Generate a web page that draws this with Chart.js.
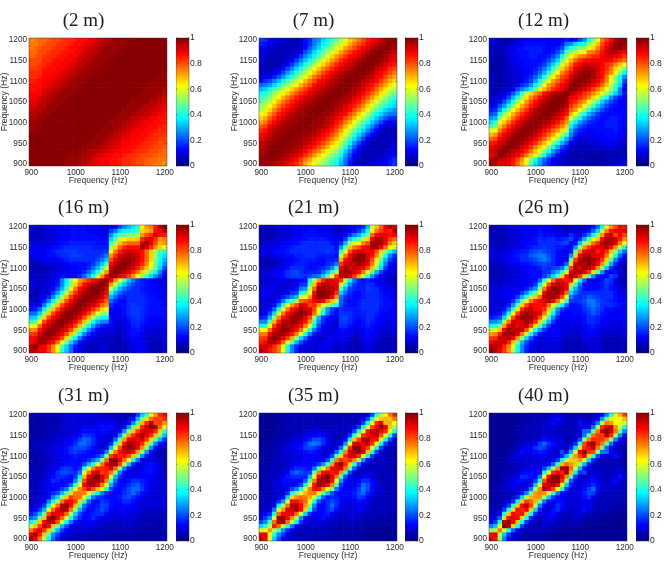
<!DOCTYPE html>
<html>
<head>
<meta charset="utf-8">
<title>Frequency correlation by range</title>
<script src="https://cdn.jsdelivr.net/npm/chart.js@4"></script>
<style>
  html, body { margin: 0; padding: 0; background: #fff; }
  body { position: relative; width: 667px; height: 563px; overflow: hidden; }
  canvas { position: absolute; }
</style>
</head>
<body>
<script>
// Frequency axis shared by every panel (Hz).
const freqs = [900,910,920,930,940,950,960,970,980,990,1000,1010,1020,1030,1040,1050,1060,1070,1080,1090,1100,1110,1120,1130,1140,1150,1160,1170,1180,1190,1200];
const xTickValues = [900,1000,1100,1200];
const yTickValues = [900,950,1000,1050,1100,1150,1200];
const barTickValues = [0,0.2,0.4,0.6,0.8,1];
const rangeLabels = ['(2 m)','(7 m)','(12 m)','(16 m)','(21 m)','(26 m)','(31 m)','(35 m)','(40 m)'];
const axisLabel = 'Frequency (Hz)';

// Correlation in hundredths. Each matrix is symmetric, so row i lists columns i..30 only.
const corr2m = [
[100,100,100,100,99,99,99,99,98,98,97,96,95,93,92,90,89,88,87,86,85,84,83,82,81,80,78,77,76,75,73],
[100,100,100,100,99,99,99,98,98,97,96,95,94,92,90,89,88,87,86,85,84,83,82,81,80,79,78,77,76,75],
[100,100,100,100,99,99,99,98,98,97,96,95,94,92,91,89,88,87,86,85,84,83,82,81,80,80,79,78,77],
[100,100,100,100,99,99,99,99,98,97,96,95,94,93,91,90,89,88,87,86,85,84,83,82,81,80,79,78],
[100,100,100,100,99,99,99,99,98,98,97,96,95,93,92,90,89,88,87,86,85,84,83,82,81,80,79],
[100,100,100,100,99,99,99,99,98,98,97,96,95,93,92,90,89,88,87,86,85,84,83,82,81,80],
[100,100,100,100,99,99,99,99,98,98,97,96,95,93,92,90,89,88,87,86,85,84,83,82,81],
[100,100,100,100,99,99,99,99,98,98,97,96,95,93,92,90,89,88,87,86,85,84,83,82],
[100,100,100,100,99,99,99,99,98,98,97,96,95,93,92,90,89,88,87,86,85,84,83],
[100,100,100,100,99,99,99,99,98,98,97,96,95,93,92,90,89,88,87,86,85,84],
[100,100,100,100,99,99,99,99,98,98,97,96,95,93,92,90,89,88,87,86,85],
[100,100,100,100,99,99,99,99,98,98,97,96,95,94,92,91,89,88,87,86],
[100,100,100,100,99,99,99,99,98,98,97,96,95,94,93,91,90,88,87],
[100,100,100,100,99,99,99,99,98,98,97,96,95,94,93,91,90,88],
[100,100,100,100,99,99,99,99,98,98,97,96,95,94,93,92,90],
[100,100,100,100,99,99,99,99,98,98,97,97,95,94,93,92],
[100,100,100,100,99,99,99,99,98,98,97,97,96,95,93],
[100,100,100,100,99,99,99,99,98,98,97,97,96,95],
[100,100,100,100,99,99,99,99,98,98,98,97,96],
[100,100,100,100,99,99,99,99,98,98,98,97],
[100,100,100,100,99,99,99,99,98,98,98],
[100,100,100,100,99,99,99,99,98,98],
[100,100,100,100,99,99,99,99,98],
[100,100,100,100,99,99,99,99],
[100,100,100,100,99,99,99],
[100,100,100,100,99,99],
[100,100,100,100,99],
[100,100,100,100],
[100,100,100],
[100,100],
[100]
];
const corr7m = [
[97,97,96,96,95,93,90,87,83,79,71,66,62,56,52,47,43,38,30,22,14,9,7,6,7,8,9,10,12,15,18],
[100,98,97,96,95,93,90,86,82,76,71,65,60,55,50,45,41,33,24,16,10,7,5,5,6,7,8,10,13,17],
[100,99,98,97,95,93,91,88,84,79,73,67,62,56,51,46,38,28,19,12,8,6,5,5,6,6,8,10,12],
[100,99,98,97,96,94,91,88,84,79,74,68,63,57,52,44,34,24,15,10,7,5,5,5,6,7,8,10],
[100,99,98,97,96,94,92,89,85,80,75,69,63,58,50,40,30,21,14,9,6,5,5,5,6,7,9],
[100,99,98,97,96,94,92,89,85,80,75,69,63,55,47,37,28,20,13,8,6,5,5,6,7,8],
[100,99,98,97,96,95,92,89,85,80,75,68,60,52,44,35,27,19,12,8,6,5,5,6,7],
[100,99,98,97,96,95,92,89,85,80,74,66,58,50,42,34,26,18,12,8,6,5,5,6],
[100,99,98,97,96,94,92,89,85,79,72,64,56,48,41,33,25,18,12,8,6,5,6],
[100,99,98,97,96,94,92,88,83,77,70,62,55,47,40,32,25,18,12,9,7,7],
[100,99,98,97,96,94,91,87,82,76,69,61,54,47,40,32,25,19,14,11,13],
[100,99,98,97,95,93,90,86,81,75,68,61,54,47,39,32,26,21,17,17],
[100,99,98,97,95,93,90,86,81,75,68,61,54,46,39,33,28,24,24],
[100,99,98,97,95,93,90,86,80,74,68,60,53,46,40,34,30,28],
[100,99,98,96,95,92,89,85,80,74,67,60,53,46,41,36,33],
[100,99,98,96,94,92,89,85,79,73,67,60,53,47,41,36],
[100,99,98,96,94,92,88,84,79,73,66,59,53,47,42],
[100,99,97,96,94,91,88,84,78,72,65,59,53,47],
[100,99,97,96,94,91,87,83,77,71,65,59,54],
[100,99,97,96,93,90,87,82,77,71,65,60],
[100,99,97,95,93,90,86,82,76,71,66],
[100,99,97,95,93,89,86,81,76,71],
[100,99,97,95,92,89,85,81,76],
[100,99,97,95,92,88,84,80],
[100,99,97,94,91,88,85],
[100,99,97,94,91,88],
[100,99,96,93,90],
[100,98,96,93],
[100,98,96],
[100,98],
[100]
];
const corr12m = [
[97,95,90,92,90,85,78,70,58,45,35,27,20,15,10,8,7,6,5,5,5,5,4,4,4,5,5,6,7,8,10],
[100,93,93,91,87,81,73,62,50,40,31,23,17,12,9,8,6,5,5,5,5,4,4,4,4,5,5,6,7,8],
[100,98,95,92,88,83,76,68,60,50,38,28,19,13,9,7,5,4,4,4,4,4,4,4,5,6,6,6,6],
[100,98,95,92,88,83,76,68,60,50,38,28,19,13,9,6,5,5,5,5,5,5,6,6,7,6,6,5],
[100,98,96,92,88,83,76,68,60,50,39,29,20,13,7,6,6,6,6,7,7,8,9,9,8,7,6],
[100,98,96,93,88,83,76,69,61,51,40,30,21,12,8,7,7,8,9,9,10,11,11,10,8,6],
[100,98,96,93,88,83,77,70,62,52,41,31,20,12,8,8,9,10,11,12,12,13,13,12,8],
[100,98,96,93,89,84,78,71,63,53,43,25,16,12,11,10,10,11,12,13,13,14,12,10],
[100,98,96,93,89,84,78,72,65,56,30,20,15,13,12,12,13,13,14,14,15,13,10],
[100,98,96,93,90,85,80,74,66,36,27,20,16,14,13,13,14,15,15,15,14,11],
[100,98,96,94,90,86,81,72,46,36,27,21,17,15,14,14,15,15,15,14,11],
[100,98,97,94,91,87,78,60,48,38,29,23,18,15,14,14,15,15,14,12],
[100,99,97,95,92,86,70,62,50,40,31,24,18,15,13,13,13,13,11],
[100,99,97,95,90,78,72,62,52,42,32,25,19,15,13,12,12,11],
[100,99,98,94,83,78,72,64,54,44,34,26,19,15,13,12,11],
[100,99,96,87,84,78,72,64,54,44,34,26,19,15,12,11],
[100,98,90,88,84,80,74,66,58,48,38,28,20,15,12],
[100,95,92,88,84,80,74,68,60,52,44,34,24,15],
[100,98,95,91,87,82,76,70,62,52,40,26,10],
[100,98,96,93,90,85,78,68,56,45,33,14],
[100,98,96,93,89,83,74,62,50,36,20],
[100,98,96,92,86,76,64,50,38,26],
[98,96,92,87,81,74,62,50,38],
[95,92,88,83,76,66,58,48],
[90,88,84,80,74,68,62],
[88,88,86,84,80,75],
[92,92,90,86,82],
[95,95,92,88],
[98,97,95],
[100,98],
[100]
];
const corr16m = [
[95,95,88,88,82,72,62,42,32,22,14,10,7,6,6,7,8,8,6,5,5,6,8,10,11,10,8,6,5,6,8],
[100,90,88,83,74,62,44,33,23,15,10,7,6,6,7,8,8,6,5,5,6,8,10,11,11,9,7,5,5,7],
[97,96,92,87,78,64,47,33,22,14,10,8,7,7,7,7,7,6,5,7,9,11,12,11,9,7,6,6,7],
[98,97,93,88,80,67,50,36,24,15,11,9,8,7,7,7,6,6,8,10,12,12,10,8,7,7,7,8],
[99,97,93,88,80,68,52,38,25,16,11,9,8,8,8,7,6,8,11,13,13,11,9,8,8,8,9],
[98,97,93,88,80,68,52,38,26,18,13,10,9,9,8,7,8,11,14,15,13,10,9,9,9,10],
[98,97,93,88,80,68,52,39,27,20,15,14,11,9,8,9,12,15,16,14,11,10,10,10,11],
[99,97,94,88,80,68,54,40,30,26,26,13,10,9,10,13,16,17,15,13,11,11,11,12],
[100,98,94,89,81,70,56,44,38,36,12,10,10,12,15,17,18,16,14,12,12,12,13],
[100,98,94,89,82,72,60,52,52,12,11,11,13,16,18,18,17,15,13,13,13,13],
[100,98,95,90,84,75,66,62,14,12,12,14,16,18,18,17,15,14,13,13,13],
[100,98,95,91,86,78,72,17,14,13,14,16,18,17,16,15,14,13,13,12],
[100,98,96,92,87,78,22,17,14,14,16,17,17,16,15,14,13,13,12],
[100,98,96,92,84,30,22,17,15,16,17,16,16,15,14,13,12,12],
[100,99,96,88,42,30,22,18,17,16,16,15,15,14,13,12,11],
[100,98,92,58,42,30,24,20,17,16,15,14,13,12,11,10],
[100,96,72,56,42,32,24,19,17,15,14,12,11,10,9],
[100,88,72,58,44,32,24,18,15,13,11,10,9,8],
[97,96,92,87,80,72,62,52,43,34,26,18,10],
[100,98,95,90,84,76,66,56,46,36,24,14],
[100,98,95,91,85,78,68,58,46,34,20],
[100,98,95,90,84,74,62,48,36,25],
[98,96,92,86,78,66,50,38,30],
[95,92,86,78,66,52,40,35],
[90,86,78,68,54,44,42],
[98,92,84,72,66,62],
[96,90,80,70,72],
[92,84,72,75],
[92,86,85],
[90,95],
[100]
];
const corr21m = [
[95,92,85,82,75,62,38,25,15,10,8,8,9,10,10,9,8,6,8,7,5,5,6,8,9,8,6,5,5,5,6],
[95,88,84,76,63,40,26,16,11,9,8,9,10,11,10,8,7,9,8,6,5,6,8,10,9,7,5,5,5,6],
[96,95,88,78,64,46,30,20,13,10,9,9,10,11,10,8,10,9,7,5,6,9,11,10,8,6,5,5,6],
[100,96,90,82,70,52,34,22,14,10,9,9,10,11,9,11,10,8,6,7,10,12,11,9,7,6,6,7],
[96,96,92,85,74,58,40,24,15,11,9,9,10,10,12,12,10,8,8,11,13,12,10,8,7,7,8],
[97,97,93,86,75,60,42,24,15,11,9,9,10,14,14,12,10,9,12,14,13,11,9,8,8,9],
[95,95,92,86,76,60,36,20,12,10,9,9,17,16,14,12,11,13,15,14,12,10,9,9,10],
[97,97,92,86,72,44,26,16,11,9,9,18,18,16,14,12,14,16,15,13,11,10,10,11],
[98,96,90,80,52,30,18,13,11,10,18,19,17,15,14,15,16,16,14,12,11,11,12],
[100,97,92,78,58,38,24,16,13,18,17,16,15,15,15,17,17,15,13,12,11,12],
[92,90,80,62,44,28,18,14,16,15,15,15,15,16,17,17,16,14,13,12,12],
[82,84,72,62,55,46,38,20,15,14,14,15,16,16,17,17,15,14,13,11],
[88,92,88,78,68,56,22,15,14,14,15,16,17,17,16,15,14,13,11],
[98,100,96,88,72,24,17,15,14,14,15,17,17,17,15,13,12,10],
[100,98,94,84,34,22,17,14,14,15,17,17,17,15,12,11,9],
[94,94,90,46,30,20,16,15,15,18,17,16,14,11,10,8],
[92,90,62,42,26,18,15,15,17,16,14,12,10,9,7],
[88,82,56,38,24,16,13,15,14,12,10,8,7,6],
[95,95,90,82,70,56,42,28,16,10,8,6,6],
[96,96,92,86,76,62,46,30,18,12,9,8],
[92,94,92,88,80,68,52,34,18,12,10],
[93,98,94,88,76,58,40,24,14,10],
[98,98,92,80,64,46,30,18,13],
[100,92,86,74,56,40,26,16],
[88,88,80,66,50,38,30],
[98,96,88,78,64,58],
[96,96,88,76,68],
[96,90,82,78],
[88,86,88],
[85,96],
[92]
];
const corr26m = [
[97,95,88,82,72,55,38,25,15,10,8,7,8,9,9,8,7,6,6,5,5,6,7,8,8,7,6,5,5,5,6],
[95,92,84,74,58,40,26,16,11,9,8,8,9,10,9,8,6,6,5,5,6,8,9,8,7,6,5,5,5,6],
[92,93,85,68,48,30,19,13,10,8,9,10,10,9,7,6,6,5,6,8,9,9,8,6,6,5,5,5,6],
[92,96,88,73,52,34,21,14,10,9,10,11,10,8,7,7,6,7,9,10,10,8,7,6,6,6,6,7],
[96,98,90,76,57,38,24,15,11,10,11,11,9,8,8,7,8,10,12,11,9,8,7,7,7,7,8],
[93,94,92,80,62,42,27,17,12,11,11,10,9,9,8,9,11,13,13,11,9,8,8,8,8,9],
[88,92,93,82,65,46,30,18,12,10,10,10,10,9,10,12,14,15,13,11,9,9,9,9,10],
[92,98,93,83,66,47,30,18,11,10,10,11,10,11,13,16,17,15,12,11,10,10,10,11],
[98,97,92,81,63,42,26,15,11,11,12,12,12,14,16,17,15,13,12,11,11,11,12],
[94,93,90,76,56,36,21,13,12,12,13,13,15,18,21,18,15,13,12,12,12,12],
[88,86,84,68,46,28,18,14,13,14,14,16,20,23,20,16,14,13,12,12,12],
[86,88,78,62,50,36,22,14,14,15,18,22,24,21,17,16,16,15,13,12],
[90,96,88,76,60,42,18,16,18,20,24,24,20,18,16,15,14,12,11],
[96,98,92,80,60,24,18,17,18,21,20,18,17,17,16,13,11,10],
[94,100,92,78,34,24,18,16,17,17,16,16,17,16,13,10,8],
[97,94,88,46,30,19,14,13,13,14,15,16,14,11,9,7],
[92,88,66,42,24,14,11,11,12,15,18,15,10,8,6],
[85,86,62,38,22,12,10,10,14,20,16,10,6,5],
[96,92,82,66,46,28,15,11,14,20,16,9,5],
[94,96,92,82,66,46,28,14,12,13,8,5],
[90,96,95,88,74,52,32,16,10,7,5],
[95,99,95,88,72,50,30,16,9,6],
[100,96,92,82,66,44,26,14,8],
[92,92,88,76,58,38,22,14],
[85,90,83,68,50,34,22],
[92,95,87,72,55,38],
[96,96,90,75,62],
[94,93,85,72],
[80,88,80],
[88,90],
[85]
];
const corr31m = [
[97,90,76,56,36,22,15,10,7,6,6,5,5,5,6,6,5,4,4,4,4,4,4,4,4,4,4,4,4,4,5],
[97,85,68,46,28,20,12,8,7,7,6,6,6,6,6,5,5,4,4,4,4,5,5,4,4,4,4,4,4,4],
[92,82,68,48,30,18,11,8,8,8,8,8,7,6,6,5,5,5,5,6,6,5,5,4,4,4,4,4,5],
[94,88,68,48,30,20,12,9,9,10,10,9,8,7,6,6,6,6,7,7,6,5,5,4,4,4,4,5],
[97,94,80,58,36,24,14,11,11,12,12,10,9,8,7,7,7,8,8,7,6,5,5,5,5,4,5],
[100,90,78,60,38,24,16,12,14,16,14,12,10,8,8,9,9,9,8,7,6,6,5,5,5,5],
[90,88,78,54,34,20,14,13,15,17,16,12,10,9,10,11,10,9,8,7,6,6,6,6,6],
[96,94,76,50,30,18,13,14,17,20,16,12,10,11,12,12,10,9,8,7,7,7,7,7],
[100,86,68,44,24,15,13,15,20,18,14,12,12,14,14,12,10,8,8,8,8,8,8],
[86,82,66,42,22,14,14,18,16,14,13,14,17,17,14,11,9,8,8,8,8,8],
[78,76,62,42,26,18,16,14,14,13,15,18,20,17,14,11,9,8,8,8,8],
[76,74,62,48,36,24,16,14,13,14,17,20,22,18,14,11,9,8,8,8],
[80,88,80,70,60,40,20,14,13,15,19,22,22,18,14,11,9,8,8],
[97,96,88,76,58,30,16,13,14,17,20,21,17,14,11,9,8,8],
[96,98,90,74,42,22,13,12,13,16,17,15,13,11,9,8,7],
[100,92,84,58,30,16,11,10,11,12,12,12,12,10,8,7],
[82,84,76,50,26,14,9,9,10,11,13,13,11,8,7],
[85,90,78,50,26,14,9,8,10,13,13,11,8,6],
[96,98,82,56,32,16,10,9,11,13,11,8,6],
[100,88,76,62,40,22,12,9,10,9,7,6],
[84,86,80,68,46,26,14,9,7,6,5],
[92,94,86,72,50,28,14,8,6,5],
[100,96,88,72,50,28,14,8,6],
[94,92,84,68,46,26,14,9],
[88,92,82,66,46,30,18],
[96,90,84,70,48,32],
[92,92,84,66,42],
[100,94,78,64],
[80,82,72],
[80,84],
[86]
];
const corr35m = [
[93,88,58,34,20,12,8,6,5,5,5,5,4,4,4,4,4,4,4,4,4,4,4,3,3,3,3,3,3,3,4],
[92,62,40,26,18,10,7,6,6,6,5,5,5,5,5,4,4,4,4,4,4,4,3,3,3,3,3,3,3,3],
[72,56,44,28,17,10,7,6,6,6,6,6,5,5,5,4,4,4,4,4,4,4,3,3,3,3,3,3,4],
[85,78,58,40,24,12,8,7,7,8,8,7,6,5,5,5,5,5,5,5,4,4,4,3,3,3,3,4],
[95,96,78,58,36,17,10,8,8,9,10,9,7,6,6,6,6,6,5,5,4,4,4,4,4,4,4],
[100,88,72,52,28,14,9,9,11,13,12,9,7,6,7,8,8,7,6,5,5,4,4,4,4,4],
[88,90,78,58,34,17,11,11,14,15,12,9,7,7,8,9,9,7,6,5,5,5,5,4,4],
[92,96,86,66,40,20,12,13,17,19,14,10,8,8,9,11,10,8,6,6,5,5,5,5],
[96,86,72,50,26,14,13,17,22,16,11,9,9,10,11,10,8,7,6,6,6,6,5],
[82,78,62,38,20,14,16,20,16,12,10,10,11,14,12,9,7,6,6,6,6,6],
[76,70,58,36,22,15,16,15,12,11,11,13,18,16,11,8,7,6,6,6,6],
[76,76,64,46,32,20,14,12,11,12,15,20,22,15,10,8,7,6,6,6],
[86,86,76,62,48,24,13,11,11,13,18,24,20,12,9,7,6,6,6],
[97,96,88,74,44,18,11,10,11,15,22,20,13,9,7,6,6,5],
[97,98,86,60,28,13,9,9,12,16,16,11,8,6,6,5,5],
[100,90,76,44,20,10,8,9,11,11,9,7,6,5,5,5],
[85,88,72,42,20,10,7,7,8,8,7,6,5,5,4],
[90,92,76,46,22,10,7,6,6,7,7,6,5,4],
[97,84,66,42,22,11,7,6,6,7,6,5,4],
[80,84,74,52,28,14,8,6,6,7,6,5],
[92,92,84,62,36,18,9,7,6,5,4],
[95,100,90,68,42,20,10,6,5,4],
[100,90,82,62,38,18,9,6,5],
[88,96,84,62,38,18,9,6],
[96,86,86,60,38,20,9],
[90,95,80,62,40,20],
[95,88,84,62,40],
[100,90,68,52],
[70,70,62],
[68,76],
[84]
];
const corr40m = [
[92,86,50,26,14,8,6,5,4,4,4,4,4,3,3,3,3,3,3,3,3,3,3,3,3,3,3,3,3,3,3],
[92,56,32,18,10,7,5,4,4,4,4,4,4,3,3,3,3,3,3,3,3,3,3,3,3,3,3,3,3,3],
[75,60,40,22,11,7,5,5,5,5,5,5,4,4,4,3,3,3,3,3,3,3,3,3,3,3,3,3,3],
[100,94,66,38,18,9,6,5,6,7,7,6,5,4,4,4,4,4,3,3,3,3,3,3,3,3,3,3],
[97,88,68,38,18,9,6,6,8,9,8,6,5,4,5,5,5,4,4,3,3,3,3,3,3,3,3],
[90,88,66,38,16,8,7,9,12,10,7,6,5,6,7,7,5,4,4,4,3,3,3,3,3,3],
[85,86,68,38,16,9,8,11,14,10,7,6,6,8,10,9,6,5,4,4,4,4,3,3,3],
[84,88,68,34,15,9,9,13,17,12,8,7,7,10,14,10,7,5,5,5,4,4,4,4],
[96,82,56,26,13,9,12,16,14,9,8,8,9,12,11,8,6,5,5,5,5,4,4],
[78,70,48,24,13,11,14,14,10,8,8,9,11,10,8,6,5,5,5,5,5,4],
[72,72,54,32,18,13,12,10,9,9,10,13,16,11,7,6,5,5,5,5,5],
[74,74,60,40,24,14,10,9,9,11,15,20,18,10,7,6,6,5,5,5],
[97,90,80,62,40,18,10,9,10,13,18,22,13,8,7,7,7,6,5],
[92,96,88,64,32,14,9,9,11,14,17,12,8,7,9,9,7,6],
[98,100,84,52,22,11,8,8,11,13,10,8,7,8,14,10,6],
[100,88,74,44,18,9,7,8,10,9,7,6,7,10,14,8],
[85,96,70,36,16,20,7,8,8,7,6,6,8,10,6],
[97,78,56,30,14,8,6,6,6,6,6,7,7,5],
[72,68,50,30,15,8,6,6,6,6,6,5,4],
[68,72,58,34,17,9,6,6,6,6,5,4],
[82,88,66,42,20,10,7,10,14,8,4],
[100,84,80,50,24,22,12,8,7,4],
[86,94,76,46,22,12,9,6,4],
[97,84,76,48,24,12,7,5],
[82,82,76,52,26,12,7],
[82,94,84,54,28,14],
[100,92,76,48,26],
[95,72,60,40],
[62,62,58],
[60,70],
[80]
];
const rangeMatrices = [corr2m,corr7m,corr12m,corr16m,corr21m,corr26m,corr31m,corr35m,corr40m];

// Page placement of the grid: three columns and three rows of plot boxes.
const plotLefts = [29,259,489];
const plotTops = [38,225,413];
const plotWidth = 138;
const plotHeight = 128;
const barLefts = [176,405,636];
const titleCentres = [105,334.5,565.5];
const COLORMAP_SIZE = 64;

const inkColor = '#2b2b2b';
const tickFont = {family:'"Liberation Sans", Arial, sans-serif', size:8.2};
const labelFont = {family:'"Liberation Sans", Arial, sans-serif', size:8.5};

// Jet colormap quantised to 64 steps.
function jet(v) {
  const step = Math.min(COLORMAP_SIZE - 1, Math.floor(v * COLORMAP_SIZE));
  const t = (step + 0.5) / COLORMAP_SIZE;
  const ch = c => Math.round(255 * Math.max(0, Math.min(1, 1.5 - Math.abs(4 * t - c))));
  return `rgb(${ch(3)},${ch(2)},${ch(1)})`;
}

function cellValue(rows, i, j) {
  return (i <= j ? rows[i][j - i] : rows[j][i - j]) / 100;
}

function addCanvas(left, top, width, height) {
  const c = document.createElement('canvas');
  c.width = width;
  c.height = height;
  c.style.left = left + 'px';
  c.style.top = top + 'px';
  c.style.width = width + 'px';
  c.style.height = height + 'px';
  document.body.appendChild(c);
  return c;
}

// Thin box around the plot area with short inward tick marks.
const axesBox = {
  id: 'axesBox',
  afterDatasetsDraw(chart) {
    const {ctx, chartArea: a, scales} = chart;
    ctx.save();
    ctx.strokeStyle = 'rgba(45,45,45,0.75)';
    ctx.lineWidth = 0.6;
    ctx.strokeRect(a.left, a.top, a.right - a.left, a.bottom - a.top);
    ctx.beginPath();
    if (scales.x.options.display) {
      scales.x.ticks.forEach((t, k) => {
        const px = scales.x.getPixelForTick(k);
        ctx.moveTo(px, a.bottom); ctx.lineTo(px, a.bottom - 1.5);
        ctx.moveTo(px, a.top); ctx.lineTo(px, a.top + 1.5);
      });
    }
    scales.y.ticks.forEach((t, k) => {
      const py = scales.y.getPixelForTick(k);
      ctx.moveTo(a.left, py); ctx.lineTo(a.left + 1.5, py);
      ctx.moveTo(a.right, py); ctx.lineTo(a.right - 1.5, py);
    });
    ctx.stroke();
    ctx.restore();
  }
};

function drawHeatmap(index) {
  const col = index % 3, row = Math.floor(index / 3);
  const left = plotLefts[col] - 29, top = plotTops[row] - 38;
  const width = Math.round(2 * (titleCentres[col] - left));
  const height = 38 + plotHeight + 20;
  const rows = rangeMatrices[index];
  const datasets = freqs.map((f, j) => ({
    label: String(f),
    data: freqs.map(() => [f - 5, f + 5]),
    backgroundColor: freqs.map((_, i) => jet(cellValue(rows, i, j)))
  }));
  new Chart(addCanvas(left, top, width, height), {
    type: 'bar',
    data: {labels: freqs.map(String), datasets},
    plugins: [axesBox],
    options: {
      responsive: false,
      animation: false,
      devicePixelRatio: 1,
      layout: {padding: {right: width - 29 - plotWidth}},
      datasets: {bar: {barPercentage: 1, categoryPercentage: 1, grouped: false, borderWidth: 0, inflateAmount: 0.33}},
      plugins: {
        legend: {display: false},
        tooltip: {enabled: false},
        title: {
          display: true,
          text: rangeLabels[index],
          color: '#1c1c1c',
          font: {family: '"Liberation Serif", serif', size: 19, weight: 'normal'},
          padding: {top: 9.6, bottom: 5.6}
        }
      },
      scales: {
        x: {
          type: 'category',
          offset: true,
          grid: {display: false, drawTicks: false},
          border: {display: false},
          afterBuildTicks(s) { s.ticks = s.ticks.filter(t => xTickValues.includes(Number(s.getLabelForValue(t.value)))); },
          afterFit(s) { s.height = 20; s.paddingLeft = 0; s.paddingRight = 0; },
          ticks: {autoSkip: false, maxRotation: 0, minRotation: 0, padding: 2, color: inkColor, font: tickFont},
          title: {display: true, text: axisLabel, color: inkColor, font: labelFont, padding: 0}
        },
        y: {
          type: 'linear',
          min: 895,
          max: 1205,
          grid: {display: false, drawTicks: false},
          border: {display: false},
          afterBuildTicks(s) { s.ticks = yTickValues.map(value => ({value})); },
          afterFit(s) { s.width = 29; s.paddingTop = 0; s.paddingBottom = 0; },
          ticks: {autoSkip: false, padding: 2, color: inkColor, font: tickFont, callback: v => String(v)},
          title: {display: true, text: axisLabel, color: inkColor, font: labelFont, padding: 0}
        }
      }
    }
  });
}

function drawColorbar(index) {
  const col = index % 3, row = Math.floor(index / 3);
  const levels = Array.from({length: COLORMAP_SIZE}, (_, k) => (k + 0.5) / COLORMAP_SIZE);
  new Chart(addCanvas(barLefts[col], plotTops[row] - 6, 35, plotHeight + 12), {
    type: 'bar',
    data: {
      labels: [''],
      datasets: levels.map(v => ({data: [1 / COLORMAP_SIZE], backgroundColor: jet(v)}))
    },
    plugins: [axesBox],
    options: {
      responsive: false,
      animation: false,
      devicePixelRatio: 1,
      layout: {padding: {top: 6, bottom: 6}},
      datasets: {bar: {barPercentage: 1, categoryPercentage: 1, borderWidth: 0, inflateAmount: 0.33}},
      plugins: {legend: {display: false}, tooltip: {enabled: false}},
      scales: {
        x: {stacked: true, display: false},
        y: {
          stacked: true,
          position: 'right',
          min: 0,
          max: 1,
          grid: {display: false, drawTicks: false},
          border: {display: false},
          afterBuildTicks(s) { s.ticks = barTickValues.map(value => ({value})); },
          afterFit(s) { s.width = 22; s.paddingTop = 0; s.paddingBottom = 0; },
          ticks: {autoSkip: false, padding: 1, color: inkColor, font: labelFont, callback: v => String(v)}
        }
      }
    }
  });
}

rangeLabels.forEach((_, index) => {
  drawHeatmap(index);
  drawColorbar(index);
});
</script>
</body>
</html>
